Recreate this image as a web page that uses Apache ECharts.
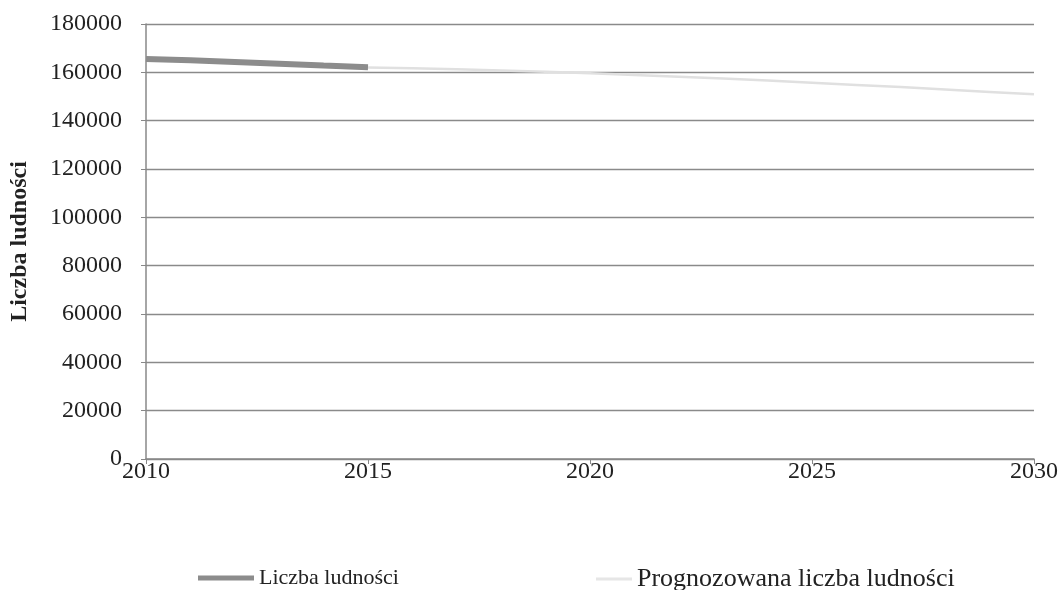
<!DOCTYPE html>
<html><head><meta charset="utf-8">
<script src="https://cdn.jsdelivr.net/npm/echarts@6/dist/echarts.min.js"></script>
<style>html,body{margin:0;padding:0;background:#fff}#c{width:1064px;height:590px}</style>
</head><body><div id="c"></div>
<script>
const seriesNames = ['Liczba ludności', 'Prognozowana liczba ludności'];
const yearsActual = [2010, 2011, 2012, 2013, 2014, 2015];
const valuesActual = [165500, 165000, 164300, 163600, 162800, 162100];
const yearsForecast = [2015, 2016, 2017, 2018, 2019, 2020, 2021, 2022, 2023, 2024, 2025, 2026, 2027, 2028, 2029, 2030];
const valuesForecast = [162000, 161700, 161300, 160800, 160200, 159600, 158900, 158200, 157400, 156600, 155700, 154800, 153900, 152900, 151900, 150900];
const yAxisTitle = 'Liczba ludności';

const font = 'Liberation Serif';
const chart = echarts.init(document.getElementById('c'));
chart.setOption({
  animation: false,
  backgroundColor: '#fff',
  textStyle: { fontFamily: font },
  grid: { left: 146, right: 30, top: 24, bottom: 131 },
  legend: [
    {
      left: 198, top: 567, itemWidth: 56, itemHeight: 5, padding: 0,
      textStyle: { fontFamily: font, fontSize: 22, color: '#222' },
      data: [{ name: seriesNames[0], icon: 'rect' }]
    },
    {
      left: 596, top: 566, itemWidth: 36, itemHeight: 3, padding: 0,
      textStyle: { fontFamily: font, fontSize: 26, color: '#222' },
      data: [{ name: seriesNames[1], icon: 'rect' }]
    }
  ],
  xAxis: {
    type: 'value', min: 2010, max: 2030, interval: 5,
    axisLine: { show: true, lineStyle: { color: '#888', width: 1.5 } },
    axisTick: { show: true, length: 5, lineStyle: { color: '#888' } },
    axisLabel: { fontFamily: font, fontSize: 24, color: '#222', margin: 1, formatter: v => String(v) },
    splitLine: { show: false }
  },
  yAxis: {
    type: 'value', min: 0, max: 180000, interval: 20000,
    name: yAxisTitle, nameLocation: 'middle', nameGap: 114, nameRotate: 90,
    nameTextStyle: { fontFamily: font, fontSize: 24, fontWeight: 'bold', color: '#222' },
    axisLine: { show: true, lineStyle: { color: '#888', width: 1.5 } },
    axisTick: { show: true, length: 5, lineStyle: { color: '#888' } },
    axisLabel: { fontFamily: font, fontSize: 24, color: '#222', margin: 24, formatter: v => String(v) },
    splitLine: { show: true, lineStyle: { color: '#8a8a8a', width: 1.3 } }
  },
  series: [
    {
      name: seriesNames[0], type: 'line', showSymbol: false,
      data: yearsActual.map((y, i) => [y, valuesActual[i]]),
      lineStyle: { color: '#8c8c8c', width: 6 }, itemStyle: { color: '#8c8c8c' }, z: 3
    },
    {
      name: seriesNames[1], type: 'line', showSymbol: false,
      data: yearsForecast.map((y, i) => [y, valuesForecast[i]]),
      lineStyle: { color: '#e0e0e0', width: 2.5 }, itemStyle: { color: '#e6e6e6' }, z: 2
    }
  ]
});
</script></body></html>
